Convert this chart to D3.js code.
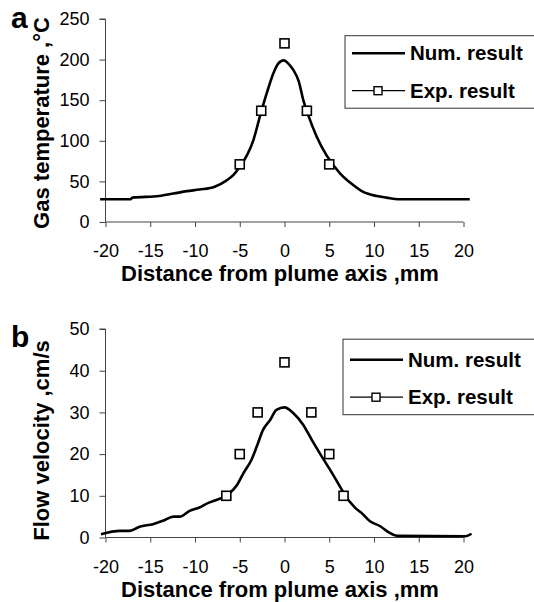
<!DOCTYPE html>
<html>
<head>
<meta charset="utf-8">
<script src="https://cdn.jsdelivr.net/npm/d3@7"></script>
<style>
  body { margin: 0; background: #fff; }
  svg { display: block; font-family: "Liberation Sans", Arial, sans-serif; }
</style>
</head>
<body>
<script>
// Panel a: gas temperature across the plume
var tempNumX = [-20.6, -17.2, -17, -14, -12.4, -10.9, -9.5, -7.8, -6.5, -5.7, -5, -4.2, -3.5, -2.7, -2, -1.25, -0.7, -0.1, 0.6, 1.0, 1.6, 2.1, 2.7, 3.6, 4.7, 6.2, 7.5, 8.8, 10.3, 11.4, 12.7, 20.7];
var tempNumY = [28, 28, 30, 32, 35, 38, 40, 43.5, 51, 58, 68, 82, 100, 132, 158, 183, 195, 199, 193, 187, 173, 150, 130, 105, 82, 60, 47, 37, 32, 30, 28, 28];
var tempExpX = [-5, -2.6, 0, 2.5, 5];
var tempExpY = [71, 137, 220, 137, 71];

// Panel b: flow velocity across the plume
var velNumX = [-20.5, -18.4, -17.3, -16.2, -14.7, -13.6, -12.4, -11.7, -10.6, -9.5, -8.5, -7.6, -6.4, -5.3, -4.6, -3.7, -3.1, -2.4, -1.6, -0.9, 0, 1.0, 2.1, 3.05, 4.0, 5.1, 6.2, 6.6, 7.9, 8.6, 9.55, 10.7, 11.6, 12.6, 20.2, 20.9];
var velNumY = [0.8, 1.6, 1.6, 2.6, 3.2, 4, 5, 5, 6.4, 7.2, 8.3, 9, 10.2, 12.6, 15.4, 18.6, 21.8, 25.8, 28.2, 30.6, 31.2, 29.8, 27, 23.4, 20, 16.2, 12.2, 10.7, 7.1, 5.9, 3.9, 2.7, 1.3, 0.4, 0.3, 0.9];
var velExpX = [-6.5, -5, -3, 0, 3, 5, 6.6];
var velExpY = [10, 20, 30, 42, 30, 20, 10];

var xTicks = [-20, -15, -10, -5, 0, 5, 10, 15, 20];
var tempTicks = [0, 50, 100, 150, 200, 250];
var velTicks = [0, 10, 20, 30, 40, 50];

var xTitle = "Distance from plume axis ,mm";
var legendLabels = ["Num. result", "Exp. result"];

var svg = d3.select("body").append("svg")
            .attr("width", 534)
            .attr("height", 602);

var xScale = d3.scaleLinear().domain([-20, 20]).range([105.5, 463.5]);

function pairs (xs, ys) {
    return xs.map(function (x, i) { return [x, ys[i]]; });
}

function drawPanel (p) {
    var yScale = d3.scaleLinear().domain(p.yDomain).range([p.bottom, p.top]);
    var g = svg.append("g");

    // x axis
    var xAxis = g.append("g")
                 .attr("transform", "translate(0," + p.bottom + ")")
                 .call(d3.axisBottom(xScale).tickValues(xTicks).tickSize(5).tickPadding(p.xPad).tickFormat(d3.format("d")));
    xAxis.select(".domain").attr("d", "M" + xScale(-20) + ",0H" + xScale(20)).attr("stroke", "#444");
    xAxis.selectAll(".tick line").attr("stroke", "#444");
    xAxis.selectAll(".tick text")
         .attr("font-size", 18).attr("fill", "#000").attr("font-family", "Liberation Sans, Arial, sans-serif")
         .text(function (d) { return d < 0 ? "-" + Math.abs(d) : d; });

    // y axis
    var yAxis = g.append("g")
                 .attr("transform", "translate(" + xScale(-20) + ",0)")
                 .call(d3.axisLeft(yScale).tickValues(p.yTicks).tickSize(6).tickPadding(10));
    yAxis.select(".domain").attr("d", "M0," + p.bottom + "V" + p.top + "H-6").attr("stroke", "#444");
    yAxis.selectAll(".tick line").attr("stroke", "#444");
    yAxis.selectAll(".tick text")
         .attr("font-size", 18).attr("fill", "#000").attr("font-family", "Liberation Sans, Arial, sans-serif");

    // numerical line
    var line = d3.line()
                 .x(function (d) { return xScale(d[0]); })
                 .y(function (d) { return yScale(d[1]); })
                 .curve(d3.curveMonotoneX);
    g.append("path")
     .attr("d", line(pairs(p.numX, p.numY)))
     .attr("fill", "none")
     .attr("stroke", "#000")
     .attr("stroke-width", 2.6)
     .attr("stroke-linejoin", "round");

    // experimental markers
    g.selectAll(".exp")
     .data(pairs(p.expX, p.expY))
     .enter().append("rect")
     .attr("class", "exp")
     .attr("x", function (d) { return xScale(d[0]) - 4.5; })
     .attr("y", function (d) { return yScale(d[1]) - 4.5; })
     .attr("width", 9).attr("height", 9)
     .attr("fill", "#fff").attr("stroke", "#000").attr("stroke-width", 1.6);

    // panel letter
    g.append("text")
     .attr("x", 11).attr("y", p.letterY)
     .attr("font-size", 30).attr("font-weight", "bold")
     .text(p.letter);

    // axis titles
    g.append("text")
     .attr("x", 280).attr("y", p.xTitleY)
     .attr("text-anchor", "middle")
     .attr("font-size", 22).attr("font-weight", "bold")
     .text(xTitle);
    g.append("text")
     .attr("transform", "translate(49," + p.yTitleMid + ") rotate(-90)")
     .attr("text-anchor", "middle")
     .attr("font-size", 22).attr("font-weight", "bold")
     .text(p.yTitle);

    // legend
    var lg = g.append("g").attr("transform", "translate(" + p.legend[0] + "," + p.legend[1] + ")");
    lg.append("rect")
      .attr("x", 0).attr("y", 0).attr("width", 200).attr("height", p.legendH)
      .attr("fill", "#fff").attr("stroke", "#333").attr("stroke-width", 1);
    lg.append("line")
      .attr("x1", 7).attr("x2", 60).attr("y1", p.row1).attr("y2", p.row1)
      .attr("stroke", "#000").attr("stroke-width", 2.6);
    lg.append("line")
      .attr("x1", 7).attr("x2", 60).attr("y1", p.row2).attr("y2", p.row2)
      .attr("stroke", "#000").attr("stroke-width", 1.2);
    lg.append("rect")
      .attr("x", 29).attr("y", p.row2 - 4).attr("width", 8).attr("height", 8)
      .attr("fill", "#fff").attr("stroke", "#000").attr("stroke-width", 1.4);
    lg.selectAll(".lab")
      .data(legendLabels)
      .enter().append("text")
      .attr("x", 65)
      .attr("y", function (d, i) { return (i === 0 ? p.row1 : p.row2) + 7; })
      .attr("font-size", 20.5).attr("font-weight", "bold")
      .text(function (d) { return d; });
}

drawPanel({
    letter: "a", letterY: 28,
    top: 19, bottom: 222, yDomain: [0, 250], yTicks: tempTicks,
    numX: tempNumX, numY: tempNumY, expX: tempExpX, expY: tempExpY,
    yTitle: "Gas temperature ,°C", yTitleMid: 123, xTitleY: 281, xPad: 17,
    legend: [345, 35.7], legendH: 72.5, row1: 17.5, row2: 55
});

drawPanel({
    letter: "b", letterY: 347,
    top: 329, bottom: 537.5, yDomain: [0, 50], yTicks: velTicks,
    numX: velNumX, numY: velNumY, expX: velExpX, expY: velExpY,
    yTitle: "Flow velocity ,cm/s", yTitleMid: 440.5, xTitleY: 597, xPad: 18,
    legend: [343, 339.2], legendH: 75.5, row1: 20.5, row2: 58
});
</script>
</body>
</html>
